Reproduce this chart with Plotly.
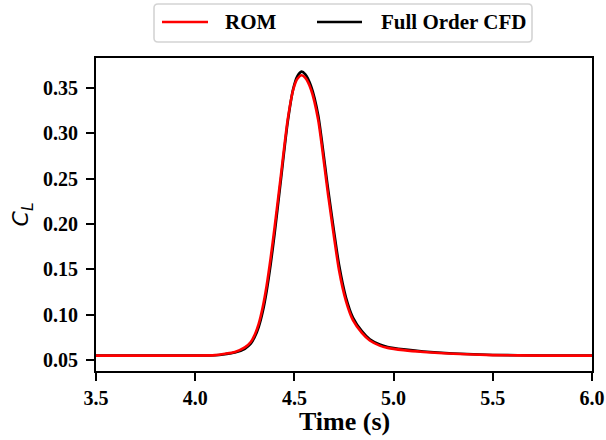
import plotly.graph_objects as go

# Lift coefficient history around the gust encounter
time_s = [3.5, 4.0, 4.1, 4.15, 4.2, 4.25, 4.28, 4.30, 4.32, 4.34, 4.36,
          4.38, 4.40, 4.43, 4.466, 4.494, 4.515, 4.536, 4.555, 4.584, 4.62,
          4.67, 4.725, 4.76, 4.795, 4.84, 4.88, 4.93, 4.97, 5.05, 5.15, 5.3,
          5.5, 5.75, 6.0]

cl_rom = [0.055, 0.055, 0.0555, 0.057, 0.059, 0.064, 0.070, 0.078, 0.090,
          0.108, 0.132, 0.162, 0.196, 0.250, 0.3147, 0.348, 0.360, 0.364,
          0.361, 0.348, 0.3147, 0.232, 0.149, 0.115, 0.094, 0.080, 0.0716,
          0.066, 0.0635, 0.061, 0.059, 0.057, 0.0555, 0.055, 0.055]

cl_cfd = [0.055, 0.055, 0.0553, 0.0565, 0.0583, 0.0625, 0.0680, 0.0755,
          0.0865, 0.103, 0.126, 0.155, 0.189, 0.245, 0.312, 0.349, 0.363,
          0.368, 0.365, 0.352, 0.320, 0.238, 0.155, 0.119, 0.097, 0.082,
          0.073, 0.0672, 0.0645, 0.0618, 0.0595, 0.0573, 0.0557, 0.0551,
          0.055]

x_ticks = [3.5, 4.0, 4.5, 5.0, 5.5, 6.0]
y_ticks = [0.05, 0.10, 0.15, 0.20, 0.25, 0.30, 0.35]

series_names = ["ROM", "Full Order CFD"]
series_colors = ["#ff0000", "black"]

serif = "Liberation Serif"
W, H = 606, 440
L, R, T, B = 96, 14, 58, 69
plot_w, plot_h = W - L - R, H - T - B


def px_x(px):
    """Pixel column -> paper x."""
    return (px - L) / plot_w


def px_y(py):
    """Pixel row (from top) -> paper y."""
    return (H - B - py) / plot_h


def rounded_box(x0, y0, x1, y1, r):
    """SVG path (paper coords) for a box with rounded corners, given in pixels."""
    pts = [
        f"M{px_x(x0 + r)},{px_y(y0)}",
        f"L{px_x(x1 - r)},{px_y(y0)}",
        f"Q{px_x(x1)},{px_y(y0)} {px_x(x1)},{px_y(y0 + r)}",
        f"L{px_x(x1)},{px_y(y1 - r)}",
        f"Q{px_x(x1)},{px_y(y1)} {px_x(x1 - r)},{px_y(y1)}",
        f"L{px_x(x0 + r)},{px_y(y1)}",
        f"Q{px_x(x0)},{px_y(y1)} {px_x(x0)},{px_y(y1 - r)}",
        f"L{px_x(x0)},{px_y(y0 + r)}",
        f"Q{px_x(x0)},{px_y(y0)} {px_x(x0 + r)},{px_y(y0)}",
        "Z",
    ]
    return " ".join(pts)


fig = go.Figure()
fig.add_trace(go.Scatter(
    x=time_s, y=cl_cfd, mode="lines", name=series_names[1], showlegend=False,
    line=dict(color=series_colors[1], width=2.6, shape="spline", smoothing=0.6),
))
fig.add_trace(go.Scatter(
    x=time_s, y=cl_rom, mode="lines", name=series_names[0], showlegend=False,
    line=dict(color=series_colors[0], width=2.6, shape="spline", smoothing=0.6),
))

# Legend frame above the axes
shapes = [dict(
    type="path", xref="paper", yref="paper",
    path=rounded_box(154, 4, 532, 42, 4),
    line=dict(color="#d4d4d4", width=1.6), fillcolor="white", layer="above",
)]
annotations = []
entries = [(162, 208, 223), (317, 362, 379)]
for (lx0, lx1, tx), name, color in zip(entries, series_names, series_colors):
    shapes.append(dict(
        type="line", xref="paper", yref="paper",
        x0=px_x(lx0), x1=px_x(lx1), y0=px_y(22), y1=px_y(22),
        line=dict(color=color, width=2.4), layer="above",
    ))
    annotations.append(dict(
        text=f"<b>{name}</b>", xref="paper", yref="paper", x=px_x(tx), y=px_y(22),
        xanchor="left", yanchor="middle", showarrow=False,
        font=dict(family=serif, size=21, color="black"),
    ))

# x-axis title
annotations.append(dict(
    text="<b>Time (s)</b>", xref="paper", yref="paper", x=0.5, y=px_y(421),
    xanchor="center", yanchor="middle", showarrow=False,
    font=dict(family=serif, size=26, color="black"),
))

axis_common = dict(
    showline=True, linecolor="black", linewidth=2, mirror=True,
    ticks="outside", ticklen=8, tickwidth=2, tickcolor="black",
    showgrid=False, zeroline=False, automargin=False,
    tickfont=dict(family=serif, size=20, color="black"),
)

fig.update_layout(
    width=W, height=H,
    margin=dict(l=L, r=R, t=T, b=B),
    paper_bgcolor="white", plot_bgcolor="white",
    font=dict(family=serif, color="black"),
    showlegend=False,
    shapes=shapes, annotations=annotations,
    xaxis=dict(
        range=[3.5, 6.0], tickvals=x_ticks,
        ticktext=[f"<b>{v:.1f}</b>" for v in x_ticks],
        **axis_common,
    ),
    yaxis=dict(
        range=[0.038, 0.383], tickvals=y_ticks,
        ticktext=[f"<b>{v:.2f}</b>" for v in y_ticks],
        ticklabelstandoff=4,
        title=dict(text="<i>C</i><sub><i>L</i></sub>", standoff=8,
                   font=dict(family="DejaVu Sans", size=22, color="black")),
        **axis_common,
    ),
)

fig.write_html("out.html")
